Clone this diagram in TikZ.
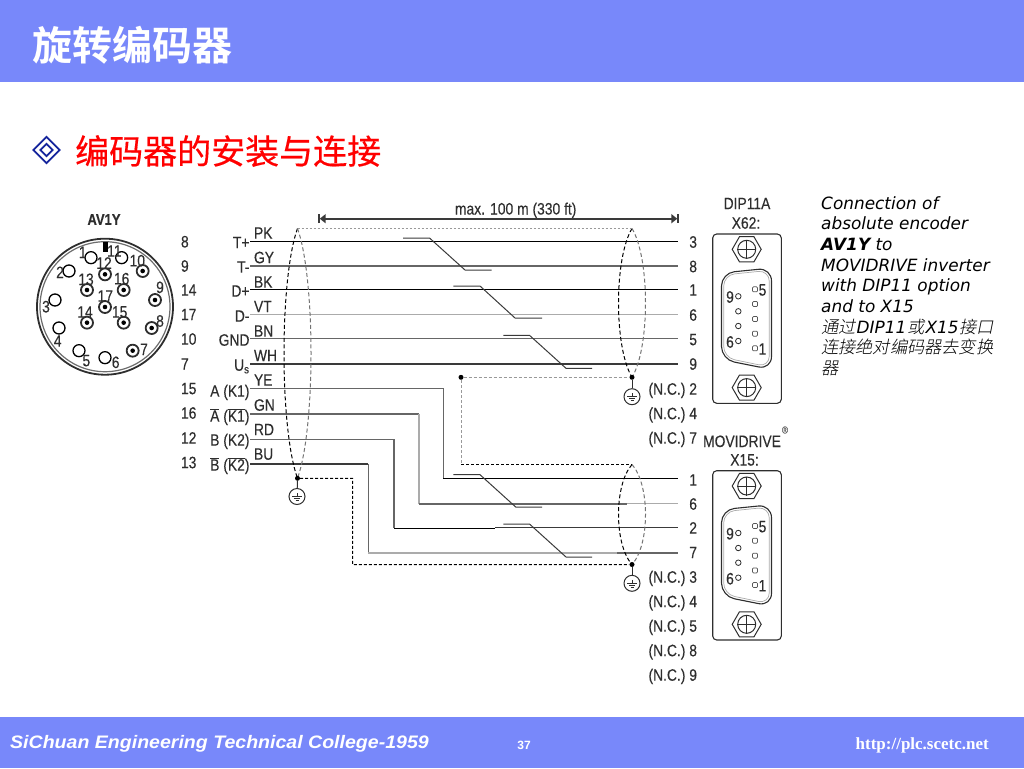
\documentclass[tikz,border=0pt]{standalone}
\usepackage{fontspec}
\usetikzlibrary{arrows.meta,shapes.geometric}
\setmainfont{Liberation Sans}
\newfontfamily\narrowf[FakeStretch=0.84,FakeBold=0.25]{Liberation Sans}
\newfontfamily\vera{DejaVu Sans}
\newfontfamily\footf[FakeStretch=1.08]{Liberation Sans}
\newfontfamily\cjkb{Noto Sans CJK SC}[BoldFont={Noto Sans CJK SC Bold}]
\newfontfamily\cjkh[FakeBold=0.4]{Noto Sans CJK SC}
\newfontfamily\cjkslant[FakeSlant=0.2]{Noto Sans CJK SC Light}
\newfontfamily\timesb{Liberation Serif}
\newcommand{\cjs}[1]{{\cjkslant\fontsize{17.2}{20.6}\selectfont #1}}
\definecolor{barblue}{HTML}{7888FA}
\definecolor{navy}{HTML}{14249C}
\definecolor{wdark}{HTML}{3A3A3A}
\definecolor{wmid}{HTML}{666666}
\definecolor{wlight}{HTML}{ABABAB}
\definecolor{inkc}{HTML}{2E2E2E}
\tikzset{
  lab/.style={inner sep=0pt,outer sep=0pt,text=inkc,font=\narrowf\fontsize{16.5}{16.5}\selectfont},
  pinlab/.style={lab,anchor=center},
  numl/.style={lab,anchor=base west},
  numr/.style={lab,anchor=base east},
  wire/.style={line width=1.1pt},
  twist/.style={line width=1pt,draw=wdark},
  shieldd/.style={line width=1pt,dash pattern=on 4pt off 2.5pt,draw=black},
  shieldg/.style={line width=1pt,dash pattern=on 4pt off 2.5pt,draw=black!55},
  emptypin/.style={circle,draw=black,line width=1.3pt,fill=white,minimum size=12pt,inner sep=0pt},
  fullpin/.style={circle,draw=inkc,line width=1.8pt,fill=white,minimum size=12pt,inner sep=0pt},
  junct/.style={circle,fill=black,minimum size=5pt,inner sep=0pt},
  gnd/.style={circle,draw=inkc,line width=1pt,minimum size=16pt,inner sep=0pt},
  nut/.style={regular polygon,regular polygon sides=6,draw=inkc,line width=1pt,minimum size=29pt,inner sep=0pt},
  nutc/.style={circle,draw=inkc,line width=1pt,minimum size=18pt,inner sep=0pt},
}
\newcommand{\GndSym}[3]{% name, x, y
  \node[gnd] (#1) at (#2,#3) {};
  \draw[line width=.9pt,draw=inkc] (#2,#3-3.5) -- (#2,#3)
     (#2-5,#3) -- (#2+5,#3) (#2-3.2,#3+2) -- (#2+3.2,#3+2) (#2-1.5,#3+4) -- (#2+1.5,#3+4);
}
\newcommand{\Shield}[4]{% name, cx, top, bottom
  \coordinate (#1t) at (#2,#3);
  \coordinate (#1b) at (#2,#4);
  \draw[shieldd] (#1t) .. controls (#2-18,#3+0.2*#4-0.2*#3) and (#2-18,#4-0.2*#4+0.2*#3) .. (#1b);
  \draw[shieldg] (#1t) .. controls (#2+18,#3+0.2*#4-0.2*#3) and (#2+18,#4-0.2*#4+0.2*#3) .. (#1b);
}
\newcommand{\DConn}[3]{% prefix, y shift, y of box bottom
 \begin{scope}[shift={(0,#2)}]
  \draw[line width=1.1pt,draw=inkc,rounded corners=4pt] (712.7,234) rectangle (781.3,#3);
  \node[nut] (#1nutA) at (746.7,249.3) {};
  \node[nutc] (#1capA) at (746.7,249.3) {};
  \draw[line width=.7pt,draw=inkc] (#1capA.west) -- (#1capA.east) (#1capA.north) -- (#1capA.south);
  \node[nut] (#1nutB) at (746.7,#3-15.7) {};
  \node[nutc] (#1capB) at (746.7,#3-15.7) {};
  \draw[line width=.7pt,draw=inkc] (#1capB.west) -- (#1capB.east) (#1capB.north) -- (#1capB.south);
  \draw[line width=1.1pt,draw=inkc,rounded corners=13pt]
     (721.5,359.5) -- (721.5,273) -- (771.5,268) -- (771.5,369.5) -- cycle;
  \draw[line width=.7pt,draw=wlight,rounded corners=11pt]
     (723.7,357.5) -- (723.7,275) -- (769.3,270.3) -- (769.3,367) -- cycle;
  \foreach \yy [count=\k] in {296.3,311.3,326,341}
     \node[circle,draw=inkc,line width=.8pt,minimum size=5.5pt,inner sep=0pt] (#1c\k) at (738.3,\yy) {};
  \foreach \yy [count=\k] in {289.3,304,319,333.7,348.3}
     \node[draw=inkc!80,line width=.7pt,minimum size=5pt,inner sep=0pt,rounded corners=1pt] (#1s\k) at (755,\yy) {};
  \node[pinlab] (#1n9) at (730,297) {9};
  \node[pinlab] (#1n6) at (730,342) {6};
  \node[pinlab] (#1n5) at (762.5,290) {5};
  \node[pinlab] (#1n1) at (762.5,349) {1};
 \end{scope}
}
\begin{document}
\begin{tikzpicture}[x=1pt,y=-1pt]
\useasboundingbox (0,0) rectangle (1024,768);
% bars
\fill[barblue] (0,0) rectangle (1024,82);
\fill[barblue] (0,717) rectangle (1024,768);
\node[anchor=west,inner sep=0pt,text=white,font=\cjkb\bfseries\fontsize{40}{40}\selectfont] (title) at (32,45) {旋转编码器};
% heading
\node[diamond,draw=navy,line width=1.8pt,minimum size=27pt,inner sep=0pt] (bulletA) at (46.5,150) {};
\node[diamond,draw=navy,line width=1.8pt,minimum size=13pt,inner sep=0pt] (bulletB) at (46.5,150) {};
\node[anchor=west,inner sep=0pt,text=red,font=\cjkh\fontsize{34}{34}\selectfont] (head) at (75,151) {编码器的安装与连接};
% footer
\node[anchor=base west,inner sep=0pt,text=white,font=\footf\bfseries\itshape\fontsize{18.1}{18.1}\selectfont] (foot) at (10,748) {SiChuan Engineering Technical College-1959};
\node[anchor=base,inner sep=0pt,text=white,font=\bfseries\fontsize{12}{12}\selectfont] (pg) at (524,749) {37};
\node[anchor=base east,inner sep=0pt,text=white,font=\timesb\bfseries\fontsize{17}{17}\selectfont] (url) at (989,749) {http://plc.scetc.net};
% side text
\node[anchor=north west,inner sep=0pt,align=left,font=\vera\itshape\fontsize{16.9}{20.7}\selectfont,text=black] (side) at (821,196) {Connection of\\absolute encoder\\\textbf{AV1Y} to\\MOVIDRIVE inverter\\with DIP11 option\\and to X15\\\cjs{通过}\kern1pt DIP11\kern1pt\cjs{或}\kern1pt X15\kern1pt\cjs{接口}\\\cjs{连接绝对编码器去变换}\\\cjs{器}};
% round connector
\node[font=\narrowf\bfseries\fontsize{15.5}{15.5}\selectfont,text=inkc,inner sep=0pt] (av) at (104,219.5) {AV1Y};
\node[circle,draw=inkc,line width=1.8pt,minimum size=136pt,inner sep=0pt] (ringA) at (105,306.7) {};
\node[circle,draw=inkc!70,line width=1.2pt,minimum size=130pt,inner sep=0pt] (ringB) at (105,306.7) {};
\fill[black] (102.5,242) rectangle (107.5,252);
\foreach \n/\x/\y in {1/213/203,11/305/203,2/147/243,3/105/330,4/117/414,5/177/482,6/255/503}
  \node[emptypin] (e\n) at ({20+\x/3},{190+\y/3}) {};
\foreach \n/\x/\y in {10/368/243,12/255/253,13/201/300,16/311/300,9/405/330,17/255/351,14/201/398,15/311/398,8/395/414,7/338/482}{
  \node[fullpin] (f\n) at ({20+\x/3},{190+\y/3}) {};
  \fill[black] (f\n.center) circle (2.3pt);
}
\foreach \t/\x/\y in {1/188/187,11/283/183,12/252/219,10/352/212,2/120/247,13/198/268,16/305/266,9/420/292,17/256/318,3/78/350,14/195/366,15/299/366,8/420/393,4/113/453,7/372/478,5/199/512,6/287/517}
  \node[pinlab] (t\t) at ({20+\x/3},{190+\y/3}) {\t};
% left pin numbers
\foreach \t/\y [count=\k] in {8/241.7,9/266,14/290,17/314.5,10/339,7/364,15/388.5,16/413,12/438,13/462.5}
  \node[numl] (ln\k) at (181,\y+5.7) {\t};
% signal names
\foreach \t/\y [count=\k] in {T+/242.5,T-/267,D+/291,D-/316,GND/340,U\textsubscript{s}/365,A (K1)/391,\ensuremath{\overline{\mbox{A}}} (\ensuremath{\overline{\mbox{K1}}})/416,B (K2)/440,\ensuremath{\overline{\mbox{B}}} (\ensuremath{\overline{\mbox{K2}}})/465}
  \node[numr] (sg\k) at (249.5,\y+5.7) {\t};
% colours
\foreach \t/\y [count=\k] in {PK/233,GY/257.5,BK/282,VT/306.5,BN/331,WH/355.5,YE/380,GN/405,RD/429.5,BU/454}
  \node[numl] (cc\k) at (254,\y+5.7) {\t};
% right numbers
\foreach \t/\y [count=\k] in {3/242,8/266.5,1/290,6/315,5/339.5,9/364}
  \node[numr] (ra\k) at (697,\y+5.7) {\t};
\foreach \t/\y [count=\k] in {(N.C.) 2/389,(N.C.) 4/413.5,(N.C.) 7/438,1/480,6/504,2/528,7/552.5,(N.C.) 3/577,(N.C.) 4/601.5,(N.C.) 5/626,(N.C.) 8/650.5,(N.C.) 9/675}
  \node[numr] (rb\k) at (697,\y+5.7) {\t};
% wires
\foreach \k/\y/\c in {1/241.7/black,2/266/wmid,3/289.5/black,4/314.3/wlight,5/338.7/wmid,6/364/wdark}{
  \coordinate (wl\k) at (250,\y);
  \coordinate (wr\k) at (678,\y);
  \draw[wire,draw=\c] (wl\k) -- (wr\k);
}
\foreach \k/\y in {7/388.3,8/414,9/439.3,10/464}
  \coordinate (wl\k) at (250,\y);
\coordinate (wr7) at (678,478.3);
\coordinate (wr8) at (678,503.7);
\coordinate (wr9) at (678,527.6);
\coordinate (wr10) at (678,553);
\draw[wire,draw=wmid] (wl7) -| (443.3,478.3);
\draw[wire,draw=black] (443.3,478.3) -- (wr7);
\draw[wire,draw=wmid] (wl8) -- (419,414);
\draw[wire,draw=wlight] (419,414) -- (419,503.7);
\draw[line width=1.6pt,draw=wmid] (419,503.7) -- (627,503.7);
\draw[wire,draw=wlight] (627,503.7) -- (wr8);
\draw[line width=1.4pt,draw=wmid] (wl9) -- (394,439.3);
\draw[wire,draw=wmid] (394,439.3) -- (394,528.3);
\draw[wire,draw=black] (394,528.3) -- (495,528.3);
\draw[wire,draw=wdark] (495,527.6) -- (wr9);
\draw[wire,draw=wdark] (wl10) -- (368.3,464);
\draw[wire,draw=wmid] (368.3,464) -- (368.3,553);
\draw[wire,draw=wlight] (368.3,553) -- (617,553);
\draw[line width=1.4pt,draw=wmid] (617,553) -- (wr10);
% twist marks
\draw[twist] (403,238) -- (429.5,238) -- (465,270) -- (491.7,270);
\draw[twist] (453.3,286) -- (480,286) -- (515,318) -- (542,318);
\draw[twist] (503.3,335.3) -- (529.5,335.3) -- (566,368.3) -- (592,368.3);
\draw[twist] (453.3,474.7) -- (480,474.7) -- (515.7,507) -- (542,507);
\draw[twist] (503.3,524) -- (529.5,524) -- (566,557) -- (592,557);
% length dimension
\coordinate (dimA) at (318,218.7);
\coordinate (dimB) at (679,218.7);
\draw[line width=1.7pt,draw=wdark,{Bar[width=9pt,line width=1.7pt].Triangle[length=6pt,width=9pt]}-{Triangle[length=6pt,width=9pt].Bar[width=9pt,line width=1.7pt]}] (dimA) -- (dimB);
\node[lab,anchor=base] (dimt) at (515.7,214.5) {max. 100 m (330 ft)};
% shields
\Shield{sa}{297.5}{228.5}{478.3}
\Shield{sb}{632}{228.5}{377.3}
\Shield{sc}{632}{464.5}{564.5}
\draw[shieldg,dash pattern=on 2pt off 2pt,draw=black!40] (sat) -- (sbt);
\node[junct] (ja) at (sab) {};
\node[junct] (jb) at (sbb) {};
\node[junct] (jc) at (scb) {};
\node[junct] (jd) at (461,377.3) {};
\GndSym{ga}{297}{496.5}
\GndSym{gb}{632}{396.7}
\GndSym{gc}{632}{583.3}
\draw[line width=1pt,draw=inkc] (ja) -- (ga);
\draw[line width=1pt,draw=inkc] (jb) -- (gb);
\draw[line width=1pt,draw=inkc] (jc) -- (gc);
\draw[shieldg,dash pattern=on 3pt off 2pt,draw=black!40] (jd) -- (jb);
\draw[shieldg,dash pattern=on 3pt off 2pt,draw=black!40] (jd) -- (461,464.5);
\draw[shieldd,dash pattern=on 3pt off 2pt] (461,464.5) -- (sct);
\draw[shieldd,dash pattern=on 3pt off 2pt] (ja) -- (352.7,478.3) -- (352.7,564.6) -- (jc);
% sub-D connectors
\DConn{x}{0}{403.3}
\DConn{y}{236.7}{403.3}
\node[lab,anchor=center] (dip) at (747,203.5) {DIP11A};
\node[lab,anchor=center] (x62) at (746,223) {X62:};
\node[lab,anchor=base] (mov) at (742,447) {MOVIDRIVE};
\node[lab,anchor=center,font=\narrowf\fontsize{10}{10}\selectfont,text=wmid] (reg) at (785,430) {®};
\node[lab,anchor=center] (x15) at (744.5,460) {X15:};
\end{tikzpicture}
\end{document}
